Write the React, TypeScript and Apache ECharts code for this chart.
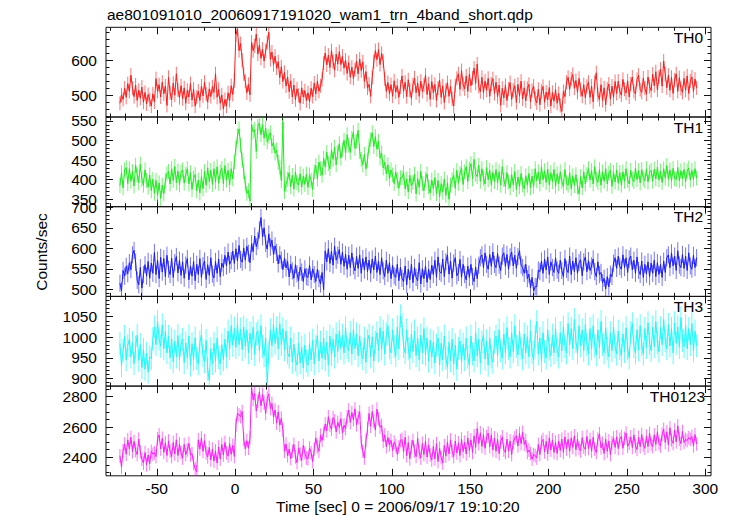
import React, { useEffect, useRef } from 'react';
import * as echarts from 'echarts';

const TITLE = 'ae801091010_20060917191020_wam1_trn_4band_short.qdp';
const X_TITLE = 'Time [sec] 0 = 2006/09/17 19:10:20';
const Y_TITLE = 'Counts/sec';
const bandNames = ['TH0', 'TH1', 'TH2', 'TH3', 'TH0123'];
const bandColors = ['#ff1a1a', '#1aee1a', '#1a1aff', '#1afcfc', '#ff1aff'];
const errColors = ['rgba(255,0,0,0.55)', 'rgba(0,230,0,0.55)', 'rgba(0,0,255,0.55)', 'rgba(0,250,250,0.6)', 'rgba(255,0,255,0.55)'];
const errBars = [20, 19, 21, 28, 45];
const T_START = -73.5;
const BIN = 1;

const th0 = [
  478, 502, 489, 521, 495, 534, 512, 558, 521, 497, 530, 486, 515, 492, 524, 481, 509, 476, 503, 488,
  470, 505, 482, 548, 512, 531, 496, 538, 505, 527, 472, 552, 508, 488, 535, 501, 562, 516, 494, 528,
  491, 522, 478, 515, 496, 534, 487, 518, 470, 495, 513, 486, 527, 499, 538, 504, 481, 519, 497, 525,
  509, 562, 495, 518, 478, 502, 462, 489, 470, 508, 486, 528, 503, 542, 672, 690, 628, 648, 601, 562,
  541, 508, 532, 502, 652, 628, 641, 675, 618, 644, 606, 632, 598, 627, 651, 680, 603, 624, 588, 612,
  578, 596, 551, 582, 540, 566, 527, 553, 511, 542, 496, 530, 488, 519, 501, 478, 522, 496, 514, 485,
  508, 482, 521, 497, 536, 505, 541, 512, 528, 546, 592, 621, 587, 615, 580, 628, 596, 572, 618, 590,
  625, 588, 612, 578, 601, 563, 594, 552, 581, 549, 574, 598, 562, 604, 571, 596, 540, 568, 521, 532,
  498, 552, 596, 628, 602, 631, 588, 620, 598, 548, 512, 537, 505, 531, 498, 542, 510, 528, 495, 524,
  556, 512, 538, 497, 545, 515, 492, 531, 550, 508, 536, 498, 541, 512, 529, 558, 503, 534, 489, 540,
  508, 532, 486, 521, 544, 495, 528, 480, 515, 537, 498, 526, 490, 470, 528, 549, 562, 518, 571, 532,
  519, 556, 512, 561, 528, 550, 578, 535, 590, 526, 511, 552, 508, 541, 515, 549, 498, 533, 548, 506,
  538, 497, 530, 472, 521, 493, 529, 486, 518, 537, 489, 515, 528, 480, 532, 498, 541, 490, 522, 485,
  520, 532, 482, 515, 527, 491, 479, 518, 474, 512, 526, 481, 510, 488, 523, 470, 509, 484, 517, 478,
  506, 472, 455, 512, 497, 538, 552, 518, 547, 560, 521, 543, 509, 549, 517, 498, 531, 494, 526, 538,
  495, 527, 482, 538, 565, 503, 489, 531, 486, 522, 474, 518, 533, 490, 527, 495, 540, 506, 541, 512,
  501, 546, 518, 507, 542, 496, 533, 553, 512, 505, 546, 558, 517, 509, 550, 521, 504, 553, 526, 514,
  561, 528, 568, 516, 553, 575, 527, 598, 561, 522, 558, 515, 552, 506, 544, 562, 512, 551, 520, 509,
  549, 515, 556, 506, 542, 553, 512, 547, 522,
];

const th1 = [
  385, 418, 379, 425, 431, 390, 428, 396, 421, 384, 437, 412, 392, 440, 401, 386, 425, 398, 381, 412,
  372, 401, 365, 398, 360, 392, 352, 386, 364, 398, 415, 421, 389, 428, 398, 434, 392, 422, 387, 419,
  425, 391, 414, 428, 389, 418, 375, 404, 413, 371, 399, 366, 408, 377, 421, 386, 430, 395, 424, 388,
  428, 394, 433, 391, 420, 429, 390, 436, 399, 424, 387, 428, 402, 445, 481, 512, 530, 488, 450, 421,
  389, 365, 372, 345, 541, 522, 528, 472, 536, 545, 515, 541, 506, 532, 497, 511, 520, 486, 495, 468,
  476, 444, 432, 398, 548, 370, 388, 401, 418, 382, 411, 376, 420, 392, 386, 415, 381, 409, 388, 414,
  380, 412, 398, 375, 420, 436, 402, 445, 428, 411, 455, 432, 470, 441, 428, 476, 452, 483, 438, 470,
  492, 455, 476, 501, 468, 515, 488, 470, 506, 521, 480, 498, 526, 472, 452, 438, 465, 428, 450, 486,
  502, 520, 485, 510, 478, 498, 455, 468, 430, 445, 415, 438, 402, 425, 412, 390, 420, 398, 378, 405,
  405, 418, 377, 402, 369, 411, 384, 393, 414, 364, 403, 380, 421, 390, 372, 401, 415, 381, 366, 399,
  377, 405, 364, 398, 356, 390, 368, 402, 360, 392, 350, 386, 400, 411, 378, 424, 391, 416, 430, 388,
  420, 433, 395, 426, 441, 402, 452, 414, 408, 437, 396, 428, 404, 389, 431, 400, 424, 387, 419, 395,
  426, 392, 420, 386, 433, 400, 383, 418, 394, 379, 413, 387, 421, 375, 407, 382, 416, 387, 377, 410,
  386, 416, 379, 409, 383, 428, 397, 420, 389, 433, 400, 423, 393, 427, 387, 418, 395, 426, 383, 415,
  390, 420, 396, 383, 426, 392, 386, 418, 377, 410, 385, 413, 381, 364, 408, 379, 420, 389, 413, 428,
  399, 423, 389, 433, 401, 393, 426, 386, 420, 396, 428, 389, 417, 424, 383, 419, 394, 425, 391, 418,
  386, 420, 396, 428, 399, 389, 424, 401, 395, 430, 400, 423, 392, 426, 403, 397, 428, 394, 419, 424,
  396, 427, 402, 432, 399, 422, 393, 428, 404, 436, 401, 425, 396, 429, 403, 400, 431, 397, 423, 402,
  426, 395, 422, 430, 399, 424, 401, 428, 404,
];

const th2 = [
  515, 496, 546, 532, 556, 538, 565, 548, 584, 595, 566, 522, 511, 553, 503, 536, 560, 532, 568, 527,
  564, 539, 590, 536, 571, 526, 578, 542, 575, 531, 583, 549, 536, 576, 529, 565, 580, 540, 571, 534,
  567, 527, 559, 575, 523, 557, 532, 568, 521, 561, 536, 575, 529, 558, 569, 524, 560, 534, 577, 537,
  528, 568, 539, 574, 531, 564, 553, 583, 557, 591, 561, 570, 593, 563, 599, 569, 607, 573, 566, 601,
  571, 605, 588, 565, 611, 592, 630, 604, 618, 645, 675, 628, 650, 612, 598, 635, 603, 620, 585, 606,
  590, 562, 584, 571, 548, 576, 552, 568, 530, 561, 545, 527, 560, 538, 521, 554, 542, 519, 550, 531,
  529, 559, 523, 550, 536, 519, 549, 526, 513, 541, 499, 594, 567, 599, 563, 593, 559, 605, 571, 583,
  597, 561, 591, 556, 585, 549, 583, 553, 589, 557, 545, 581, 551, 584, 539, 575, 547, 579, 543, 571,
  539, 574, 547, 581, 541, 569, 536, 577, 545, 531, 571, 539, 565, 526, 559, 533, 529, 561, 521, 554,
  527, 519, 557, 511, 549, 523, 561, 516, 553, 529, 521, 565, 513, 550, 526, 557, 517, 549, 524, 559,
  536, 571, 529, 579, 543, 539, 574, 531, 567, 584, 537, 569, 527, 564, 577, 533, 541, 573, 529, 561,
  536, 523, 557, 529, 561, 531, 519, 554, 526, 559, 577, 584, 553, 589, 561, 549, 585, 556, 591, 561,
  553, 587, 559, 546, 581, 589, 556, 585, 549, 579, 591, 557, 583, 551, 580, 594, 559, 553, 539, 561,
  526, 537, 503, 529, 496, 507, 506, 547, 543, 569, 539, 574, 547, 579, 536, 567, 553, 541, 577, 547,
  539, 571, 546, 531, 575, 549, 541, 581, 536, 569, 543, 577, 539, 565, 572, 533, 567, 579, 543, 570,
  546, 557, 574, 543, 531, 567, 536, 541, 516, 527, 501, 531, 506, 537, 531, 564, 577, 551, 581, 556,
  549, 584, 553, 577, 541, 574, 581, 547, 571, 539, 579, 546, 536, 569, 529, 561, 537, 567, 531, 564,
  539, 571, 531, 565, 536, 561, 529, 569, 541, 577, 584, 553, 589, 557, 581, 546, 594, 559, 553, 585,
  551, 581, 546, 589, 557, 549, 583, 553, 577,
];

const th3 = [
  985, 930, 968, 1002, 945, 980, 995, 952, 987, 936, 975, 1005, 944, 982, 926, 970, 922, 961, 915, 952,
  948, 996, 1025, 982, 1038, 996, 978, 1030, 972, 1014, 962, 1002, 950, 996, 940, 990, 952, 1004, 946, 982,
  995, 938, 986, 950, 1003, 932, 984, 946, 998, 948, 935, 988, 1005, 955, 940, 992, 922, 895, 972, 936,
  985, 942, 998, 950, 935, 982, 945, 995, 952, 1015, 972, 1028, 980, 1022, 975, 1032, 982, 1020, 970, 1025,
  978, 1018, 962, 1010, 972, 1024, 958, 1008, 1015, 967, 1028, 977, 955, 998, 888, 962, 1018, 979, 1031, 985,
  1023, 972, 1033, 982, 1021, 969, 1015, 962, 952, 998, 939, 983, 945, 932, 985, 937, 975, 925, 981, 942,
  932, 985, 945, 993, 935, 978, 1003, 942, 988, 949, 998, 945, 988, 932, 1003, 957, 995, 952, 1008, 965,
  1015, 972, 1005, 962, 1023, 975, 967, 1011, 959, 1018, 972, 1008, 955, 1003, 962, 947, 998, 939, 991, 1005,
  952, 1001, 942, 988, 1011, 967, 1023, 972, 1015, 959, 1008, 1028, 975, 962, 1018, 977, 955, 1025, 972, 1052,
  1031, 977, 962, 1018, 972, 949, 1008, 965, 1015, 955, 998, 945, 1005, 962, 1021, 957, 998, 942, 993, 952,
  988, 937, 981, 998, 932, 985, 945, 1003, 949, 927, 988, 942, 995, 935, 981, 922, 973, 991, 939, 983,
  945, 998, 952, 932, 1003, 959, 942, 1011, 955, 995, 937, 988, 1005, 947, 991, 932, 998, 952, 939, 988,
  1003, 955, 1018, 967, 949, 1008, 962, 1023, 972, 952, 1011, 965, 1028, 977, 957, 1015, 972, 947, 1008, 962,
  1001, 952, 1015, 962, 945, 1003, 1038, 959, 998, 942, 1011, 965, 949, 1018, 972, 955, 1005, 962, 1021, 969,
  952, 1011, 967, 1025, 977, 962, 1033, 982, 1021, 972, 1043, 989, 962, 1028, 979, 1018, 967, 1031, 982, 959,
  1021, 972, 1028, 979, 957, 1018, 975, 1038, 982, 962, 1023, 972, 952, 1011, 967, 1025, 977, 959, 1015, 972,
  955, 1008, 965, 1023, 972, 949, 1011, 1033, 977, 962, 1018, 969, 1028, 982, 959, 1021, 975, 1035, 985, 967,
  1025, 977, 1038, 987, 965, 1023, 982, 1043, 992, 972, 1031, 979, 1021, 962, 1035, 985, 1025, 975, 1048, 992,
  977, 1028, 972, 1021, 982, 1033, 967, 1015, 979,
];

const th0123 = [
  2410, 2335, 2445, 2488, 2420, 2515, 2455, 2532, 2438, 2505, 2445, 2418, 2520, 2435, 2388, 2362, 2432, 2350, 2415, 2358,
  2440, 2420, 2430, 2405, 2522, 2548, 2455, 2525, 2432, 2495, 2412, 2508, 2440, 2405, 2498, 2422, 2515, 2412, 2488, 2430,
  2395, 2485, 2418, 2448, 2492, 2415, 2425, 2362, 2325, 2305, 2515, 2455, 2528, 2440, 2510, 2428, 2402, 2465, 2382, 2455,
  2375, 2442, 2362, 2468, 2388, 2485, 2415, 2498, 2430, 2408, 2490, 2420, 2478, 2405, 2612, 2690, 2680, 2668, 2702, 2520,
  2455, 2510, 2460, 2528, 2865, 2780, 2820, 2705, 2770, 2832, 2740, 2815, 2762, 2690, 2790, 2818, 2722, 2755, 2665, 2712,
  2625, 2700, 2612, 2658, 2580, 2440, 2488, 2410, 2455, 2392, 2440, 2485, 2402, 2365, 2462, 2420, 2380, 2478, 2430, 2395,
  2390, 2462, 2430, 2372, 2455, 2528, 2470, 2440, 2545, 2512, 2558, 2620, 2575, 2668, 2610, 2585, 2662, 2640, 2568, 2630,
  2598, 2655, 2560, 2612, 2588, 2668, 2712, 2630, 2695, 2648, 2720, 2615, 2662, 2700, 2498, 2442, 2395, 2510, 2590, 2690,
  2605, 2702, 2640, 2580, 2718, 2655, 2598, 2612, 2505, 2548, 2470, 2530, 2482, 2512, 2445, 2500, 2478, 2420, 2468, 2510,
  2518, 2435, 2532, 2410, 2498, 2390, 2470, 2512, 2442, 2405, 2525, 2432, 2395, 2492, 2418, 2508, 2402, 2482, 2415, 2382,
  2472, 2390, 2490, 2372, 2460, 2398, 2362, 2478, 2408, 2500, 2422, 2515, 2440, 2405, 2508, 2428, 2495, 2412, 2520, 2438,
  2500, 2422, 2528, 2445, 2515, 2432, 2542, 2465, 2590, 2490, 2562, 2472, 2550, 2460, 2538, 2560, 2470, 2548, 2448, 2528,
  2440, 2518, 2425, 2502, 2535, 2448, 2432, 2520, 2440, 2508, 2418, 2500, 2528, 2542, 2475, 2558, 2490, 2565, 2485, 2512,
  2432, 2448, 2425, 2388, 2418, 2412, 2395, 2485, 2418, 2500, 2518, 2435, 2505, 2422, 2528, 2448, 2515, 2432, 2500, 2425,
  2508, 2445, 2520, 2432, 2535, 2455, 2518, 2440, 2528, 2465, 2542, 2450, 2520, 2460, 2442, 2530, 2468, 2452, 2538, 2458,
  2518, 2440, 2532, 2455, 2432, 2520, 2555, 2462, 2492, 2425, 2518, 2440, 2508, 2418, 2495, 2528, 2465, 2535, 2458, 2520,
  2538, 2460, 2525, 2560, 2472, 2492, 2535, 2465, 2548, 2475, 2452, 2532, 2470, 2550, 2482, 2460, 2540, 2472, 2558, 2488,
  2470, 2548, 2485, 2568, 2492, 2475, 2552, 2585, 2498, 2568, 2482, 2595, 2515, 2492, 2580, 2502, 2608, 2520, 2490, 2570,
  2498, 2518, 2510, 2530, 2518, 2538, 2475, 2550, 2488,
];

const bandValues = [th0, th1, th2, th3, th0123];

const xMajor = [-50, 0, 50, 100, 150, 200, 250, 300];
const xMinor = [-80, -70, -60, -50, -40, -30, -20, -10, 0, 10, 20, 30, 40, 50, 60, 70, 80, 90, 100, 110, 120, 130, 140, 150, 160, 170, 180, 190, 200, 210, 220, 230, 240, 250, 260, 270, 280, 290, 300];
const X_MIN = -82.4;
const X_MAX = 303.7;

const yMins = [439, 331, 482.7, 881, 2278];
const yMaxs = [694.3, 560.2, 701.5, 1099.4, 2870];
const yMajors = [
  [500, 600],
  [350, 400, 450, 500, 550],
  [500, 550, 600, 650, 700],
  [900, 950, 1000, 1050],
  [2400, 2600, 2800],
];
const yMinors = [
  [440, 460, 480, 500, 520, 540, 560, 580, 600, 620, 640, 660, 680],
  [340, 350, 360, 370, 380, 390, 400, 410, 420, 430, 440, 450, 460, 470, 480, 490, 500, 510, 520, 530, 540, 550, 560],
  [490, 500, 510, 520, 530, 540, 550, 560, 570, 580, 590, 600, 610, 620, 630, 640, 650, 660, 670, 680, 690, 700],
  [890, 900, 910, 920, 930, 940, 950, 960, 970, 980, 990, 1000, 1010, 1020, 1030, 1040, 1050, 1060, 1070, 1080, 1090],
  [2300, 2350, 2400, 2450, 2500, 2550, 2600, 2650, 2700, 2750, 2800, 2850],
];

const FONT = '"Liberation Sans", Arial, Helvetica, sans-serif';
const FONT_SIZE = 15.5;
const GRID_LEFT = 106;
const GRID_RIGHT = 20;
const GRID_TOPS = [27.3, 117, 206.7, 296.4, 386.1];
const GRID_H = 89.7;
const AXIS_COLOR = '#111';

function buildOption() {
  const grids: any[] = [];
  const xAxes: any[] = [];
  const yAxes: any[] = [];
  const series: any[] = [];
  const graphics: any[] = [];
  const plain = (v: number) => String(v);

  bandNames.forEach((name, i) => {
    grids.push({
      left: GRID_LEFT, right: GRID_RIGHT, top: GRID_TOPS[i], height: GRID_H,
      show: true, borderColor: AXIS_COLOR, borderWidth: 1, backgroundColor: 'transparent',
    });
    const mkX = (pos: string, vals: number[], len: number, labels: boolean) => ({
      type: 'value', gridIndex: i, position: pos, min: X_MIN, max: X_MAX,
      axisLine: { show: false, onZero: false },
      splitLine: { show: false },
      axisTick: { show: true, inside: true, length: len, customValues: vals, lineStyle: { color: AXIS_COLOR, width: 1 } },
      axisLabel: { show: labels, customValues: vals, formatter: plain, margin: 5, fontSize: FONT_SIZE, color: '#000', fontFamily: FONT },
    });
    xAxes.push(mkX('bottom', xMajor, 7, i === bandNames.length - 1));
    xAxes.push(mkX('bottom', xMinor, 3.5, false));
    xAxes.push(mkX('top', xMajor, 7, false));
    xAxes.push(mkX('top', xMinor, 3.5, false));
    const mkY = (pos: string, vals: number[], len: number, labels: boolean) => ({
      type: 'value', gridIndex: i, position: pos, min: yMins[i], max: yMaxs[i], scale: true,
      axisLine: { show: false, onZero: false },
      splitLine: { show: false },
      axisTick: { show: true, inside: true, length: len, customValues: vals, lineStyle: { color: AXIS_COLOR, width: 1 } },
      axisLabel: { show: labels, customValues: vals, formatter: plain, margin: 9, fontSize: FONT_SIZE, color: '#000', fontFamily: FONT },
    });
    yAxes.push(mkY('left', yMajors[i], 7, true));
    yAxes.push(mkY('left', yMinors[i], 3.5, false));
    yAxes.push(mkY('right', yMajors[i], 7, false));
    yAxes.push(mkY('right', yMinors[i], 3.5, false));

    const err = errBars[i];
    const pts = bandValues[i].map((v, k) => [T_START + k * BIN, v, err]);
    const color = bandColors[i];
    const ecol = errColors[i];
    series.push({
      type: 'custom', name: name + ' err', xAxisIndex: i * 4, yAxisIndex: i * 4,
      clip: true, silent: true, z: 2,
      encode: { x: 0, y: 1 },
      data: pts,
      renderItem: (params: any, api: any) => {
        const t = api.value(0);
        const v = api.value(1);
        const e = api.value(2);
        const top = api.coord([t, v + e]);
        const bot = api.coord([t, v - e]);
        return {
          type: 'line',
          shape: { x1: top[0], y1: top[1], x2: bot[0], y2: bot[1] },
          style: { stroke: ecol, lineWidth: 1 },
        };
      },
    });
    series.push({
      type: 'line', name, xAxisIndex: i * 4, yAxisIndex: i * 4,
      data: pts.map((p) => [p[0], p[1]]),
      showSymbol: false, symbol: 'none', clip: true, silent: true, z: 3,
      lineStyle: { color, width: 1 },
    });

    graphics.push({
      type: 'text', right: 731 - (i === 4 ? 705 : 703), top: GRID_TOPS[i] + 2,
      style: { text: name, fontSize: FONT_SIZE, fontFamily: FONT, fill: '#000' },
    });
  });

  graphics.push({
    type: 'text', left: 107, top: 6,
    style: { text: TITLE, fontSize: FONT_SIZE, fontFamily: FONT, fill: '#000' },
  });
  graphics.push({
    type: 'text', left: 276, top: 498,
    style: { text: X_TITLE, fontSize: FONT_SIZE, fontFamily: FONT, fill: '#000' },
  });
  graphics.push({
    type: 'text', x: 41, y: 252, rotation: Math.PI / 2,
    style: { text: Y_TITLE, fontSize: FONT_SIZE, fontFamily: FONT, fill: '#000', align: 'center', verticalAlign: 'middle', textAlign: 'center', textVerticalAlign: 'middle' },
  });

  return {
    animation: false,
    backgroundColor: '#fff',
    textStyle: { fontFamily: FONT },
    grid: grids,
    xAxis: xAxes,
    yAxis: yAxes,
    series,
    graphic: graphics,
  };
}

export default function App() {
  const ref = useRef<HTMLDivElement>(null);
  useEffect(() => {
    if (!ref.current) return;
    const chart = echarts.init(ref.current, undefined, { renderer: 'svg' });
    chart.setOption(buildOption() as any);
    return () => chart.dispose();
  }, []);
  return <div ref={ref} style={{ position: 'fixed', left: 0, top: 0, width: 731, height: 516, background: '#fff' }} />;
}
